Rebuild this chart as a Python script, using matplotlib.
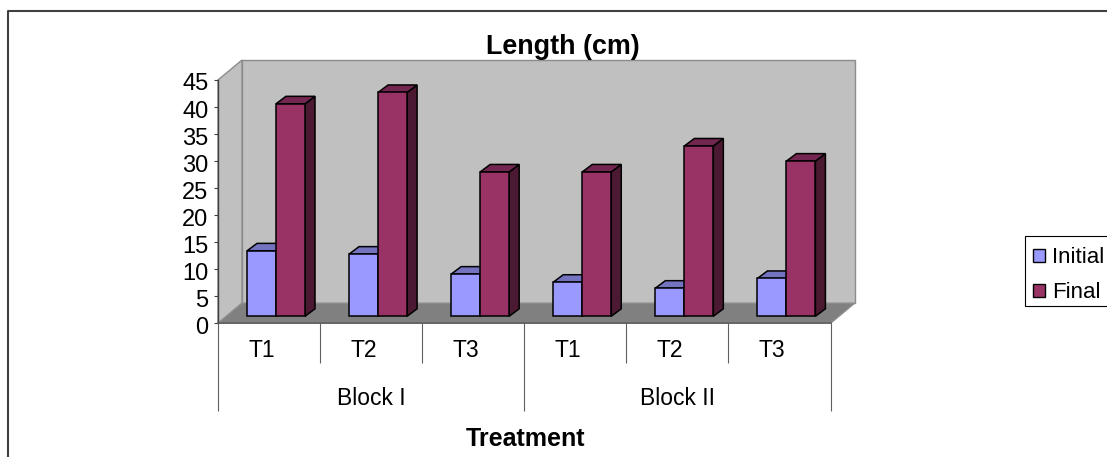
#!/usr/bin/python3

import matplotlib
matplotlib.use("Agg")
import matplotlib.pyplot as plt
from matplotlib.lines import Line2D
from matplotlib.patches import Patch, Polygon, Rectangle
from matplotlib.transforms import Affine2D

treatments = ["T1", "T2", "T3", "T1", "T2", "T3"]
blocks = ["Block I", "Block II"]
initial = [12.1, 11.5, 7.8, 6.3, 5.2, 7.0]
final = [39.3, 41.4, 26.7, 26.7, 31.5, 28.7]
y_ticks = [0, 5, 10, 15, 20, 25, 30, 35, 40, 45]

plt.rcParams['font.family'] = ['Liberation Sans', 'DejaVu Sans']

W, H = 1107, 457
fig = plt.figure(figsize=(W / 100, H / 100), dpi=100)
ax = fig.add_axes([218 / W, (H - 323.3) / H, 612.5 / W, 243.3 / H])
ax.set_xlim(0, 6)
ax.set_ylim(0, 45)
ax.patch.set_visible(False)

# pixels to data units, for the fake 3d depth
px_x = 6 / 612.5
px_y = 45 / 243.3
wall_dx, wall_dy = 24 * px_x, 20 * px_y
bar_dx, bar_dy = 10 * px_x, 7.5 * px_y
base_dx, base_dy = 8.5 * px_x, 7 * px_y
bar_w = 29 * px_x
bar_start = 20.5 * px_x


def poly(points, color, edge, lw=1.0, z=1):
    ax.add_patch(Polygon(points, closed=True, facecolor=color, edgecolor=edge,
                         linewidth=lw, clip_on=False, zorder=z))


# walls and floor
grey_edge = "#8C8C8C"
poly([(wall_dx, wall_dy), (6 + wall_dx, wall_dy), (6 + wall_dx, 45 + wall_dy), (wall_dx, 45 + wall_dy)],
     "#C0C0C0", grey_edge, 1.0)
poly([(0, 0), (wall_dx, wall_dy), (wall_dx, 45 + wall_dy), (0, 45)], "#C0C0C0", grey_edge, 1.0)
poly([(0, 0), (6, 0), (6 + wall_dx, wall_dy), (wall_dx, wall_dy)], "#808080", grey_edge, 1.0)


def draw_bar(x, value, front, top, side, z):
    left = x + base_dx
    right = left + bar_w
    y0 = base_dy
    y1 = value + base_dy
    poly([(right, y0), (right + bar_dx, y0 + bar_dy), (right + bar_dx, y1 + bar_dy), (right, y1)],
         side, "black", 1.1, z)
    poly([(left, y1), (right, y1), (right + bar_dx, y1 + bar_dy), (left + bar_dx, y1 + bar_dy)],
         top, "black", 1.1, z)
    ax.bar(left, value, bar_w, bottom=y0, align="edge", color=front, edgecolor="black",
           linewidth=1.1, clip_on=False, zorder=z)


for i in range(len(treatments)):
    draw_bar(i + bar_start, initial[i], "#9999FF", "#7373BF", "#4C4C80", 3)
    draw_bar(i + bar_start + bar_w, final[i], "#993366", "#732650", "#4C1933", 4)

# axes
for side in ["top", "right"]:
    ax.spines[side].set_visible(False)
ax.spines["left"].set_color("#404040")
ax.spines["bottom"].set_color("#606060")
ax.spines["left"].set_linewidth(1.0)
ax.spines["bottom"].set_linewidth(1.2)
ax.spines["left"].set_zorder(5)
ax.spines["bottom"].set_zorder(5)
ax.set_yticks(y_ticks)
ax.tick_params(axis="y", labelsize=17, length=3, width=0.8, color="#404040", pad=4)
# the numbers sit a little below their ticks
for label in ax.get_yticklabels():
    label.set_transform(label.get_transform() + Affine2D().translate(0, -2))

# category separators, two levels
ax.set_xticks([0, 3, 6])
ax.set_xticks([1, 2, 4, 5], minor=True)
ax.set_xticklabels([])
ax.tick_params(axis="x", which="major", length=63, width=0.8, color="#606060")
ax.tick_params(axis="x", which="minor", length=29, width=0.8, color="#606060")

for i, t in enumerate(treatments):
    ax.annotate(t, xy=(i + 0.5, 0), xytext=(-5.4, -19.5), textcoords="offset points",
                ha="center", va="center", fontsize=16.5, annotation_clip=False)
for i, b in enumerate(blocks):
    ax.annotate(b, xy=(1.5 + 3 * i, 0), xytext=(0, -54.5), textcoords="offset points",
                ha="center", va="center", fontsize=16.5, annotation_clip=False)

fig.text(563 / W, (H - 47.5) / H, "Length (cm)", fontsize=19.4, fontweight="bold", ha="center", va="center")
fig.text(525.5 / W, (H - 439) / H, "Treatment", fontsize=18, fontweight="bold", ha="center", va="center")

# legend box runs off the right edge like the original
fig.add_artist(Rectangle((1025 / W, (H - 306) / H), 90 / W, 70.3 / H, transform=fig.transFigure,
                         facecolor="white", edgecolor="black", linewidth=0.8, zorder=1))
handles = [Patch(facecolor="#9999FF", edgecolor="black", label="Initial"),
           Patch(facecolor="#993366", edgecolor="black", label="Final")]
leg = fig.legend(handles=handles, loc="upper left", bbox_to_anchor=(1025 / W, (H - 239.7) / H),
                 bbox_transform=fig.transFigure, fontsize=16, frameon=False,
                 handlelength=0.55, handleheight=0.55, handletextpad=0.3,
                 labelspacing=0.62, borderpad=0.35, borderaxespad=0)

# outer chart frame, cut off by the image edge
fig.add_artist(Line2D([8 / W, 8 / W, 1], [0, (H - 11) / H, (H - 11) / H], color="#404040", linewidth=1.5))

fig.savefig("out.png", dpi=100)
